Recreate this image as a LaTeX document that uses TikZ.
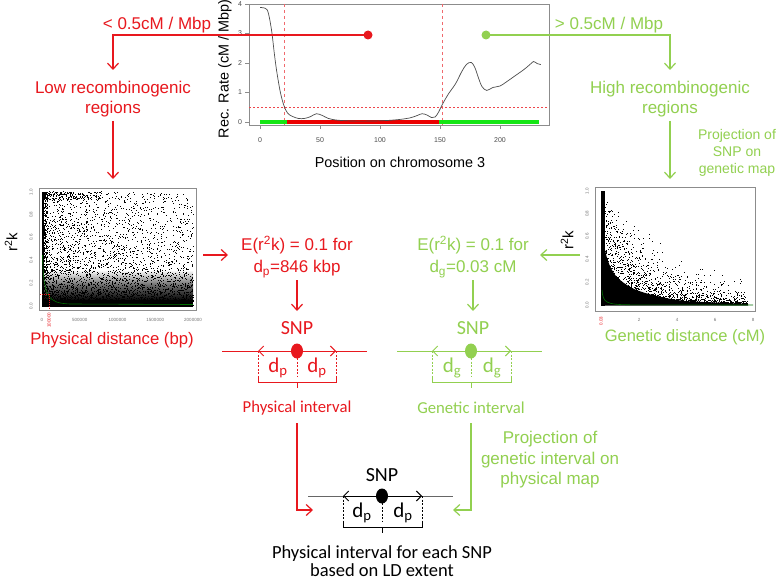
\documentclass[tikz,border=0pt]{standalone}
\usepackage{fontspec}
\setmainfont{Liberation Sans}
\newfontfamily\carl{Carlito}
\usetikzlibrary{arrows.meta}
\definecolor{myred}{RGB}{232,24,30}
\definecolor{mygreen}{RGB}{146,208,80}
\definecolor{barred}{RGB}{235,0,0}
\definecolor{bargreen}{RGB}{20,230,20}
\definecolor{fitgreen}{RGB}{0,110,0}
\definecolor{axgray}{RGB}{140,140,140}
\begin{document}
\begin{tikzpicture}[x=1pt,y=-1pt,
  arr/.style={-{Straight Barb[length=6pt,width=11pt]}, line width=1.2pt},
  darr/.style={{Straight Barb[length=5pt,width=10pt]}-{Straight Barb[length=5pt,width=10pt]}, line width=1pt},
  txt/.style={inner sep=0pt, align=center, font=\fontsize{17}{19.5}\selectfont},
  small/.style={inner sep=0pt, align=center, font=\fontsize{14.4}{17}\selectfont},
  tick/.style={inner sep=0pt, font=\fontsize{7}{8}\selectfont, text=black!70},
  tiny/.style={inner sep=0pt, font=\fontsize{4.5}{5}\selectfont, text=black!55},
  dlab/.style={inner sep=0pt, font=\carl\fontsize{21}{23}\selectfont},
  snplab/.style={inner sep=0pt, font=\carl\fontsize{20}{22}\selectfont},
  intlab/.style={inner sep=0pt, font=\carl\fontsize{16.7}{19}\selectfont},
  fine/.style={dash pattern=on 2pt off 1.5pt, line width=0.6pt},
  dot/.style={circle, fill, inner sep=0pt, minimum size=9pt}]
\useasboundingbox (0,0) rectangle (778,580);
\fill[white] (0,0) rectangle (778,580);

% ---------------- top plot ----------------
\draw[axgray, line width=0.6pt] (249,4) rectangle (549,125);
\foreach \k in {0,...,4}{
  \draw[axgray, line width=0.5pt] (249,122-29.5*\k) -- (245,122-29.5*\k);
  \node[tick] at (240,122-29.5*\k) {\k};
}
\foreach \m in {0,50,100,150,200}{
  \draw[axgray, line width=0.5pt] (260+1.2*\m,125) -- (260+1.2*\m,129);
  \node[tick] at (260+1.2*\m,140) {\m};
}
\draw[myred!65, dashed, line width=0.6pt] (284,4) -- (284,125);
\draw[myred!65, dashed, line width=0.6pt] (442,4) -- (442,125);
\draw[myred!80, dash pattern=on 2pt off 2pt, line width=0.5pt] (249,107) -- (549,107);
\draw[bargreen, line width=4pt] (260,122) -- (287,122);
\draw[barred, line width=4pt] (287,122) -- (439,122);
\draw[bargreen, line width=4pt] (439,122) -- (539,122);
\begin{scope}[shift={(260pt,-122pt)}, x=1.2pt, y=29.5pt]
\draw[black!70, line width=0.7pt] plot[smooth, tension=0.55] coordinates {
 (0,3.88) (3,3.87) (6,3.8) (8,3.5) (10,3.0) (12,2.3) (14,1.7) (17,1.0) (20,0.55)
 (23,0.3) (27,0.19) (32,0.12) (37,0.12) (42,0.18) (47,0.28) (52,0.22) (57,0.12)
 (65,0.06) (80,0.03) (100,0.04) (115,0.08) (125,0.14) (131,0.22) (135,0.28)
 (139,0.24) (143,0.15) (146,0.17) (149,0.35) (152,0.6) (157,0.95) (163,1.3)
 (168,1.7) (172,1.95) (176,2.02) (179,1.85) (182,1.5) (185,1.2) (189,1.07)
 (194,1.17) (200,1.22) (205,1.35) (212,1.55) (220,1.78) (225,1.95) (228,2.05)
 (231,1.98) (234,1.95)};
\end{scope}
\node[small, rotate=90] (ylab) at (225,69) {Rec. Rate (cM / Mbp)};
\node[small] (xlab) at (400,162) {Position on chromosome 3};

% ---------------- top branches ----------------
\node[dot, myred] (rdot) at (368,35) {};
\node[dot, mygreen] (gdot) at (486,35) {};
\coordinate (rtip) at (113,70);
\coordinate (gtip) at (670,70);
\draw[arr, myred] (rdot.center) -| (rtip);
\draw[arr, mygreen] (gdot.center) -| (gtip);
\node[txt, text=myred] (lt) at (157,25) {< 0.5cM / Mbp};
\node[txt, text=mygreen] (gt) at (609,25) {> 0.5cM / Mbp};
\node[txt, text=myred] (lowreg) at (113,99) {Low recombinogenic\\regions};
\node[txt, text=mygreen] (highreg) at (670,99) {High recombinogenic\\regions};
\node[inner sep=0pt, align=center, font=\fontsize{14}{17}\selectfont, text=mygreen] (projsnp) at (737,153) {Projection of\\SNP on\\genetic map};
\coordinate (lowA) at (113,121); \coordinate (lowB) at (113,179);
\coordinate (highA) at (670,121); \coordinate (highB) at (670,179);
\draw[arr, myred] (lowA) -- (lowB);
\draw[arr, mygreen] (highA) -- (highB);

% ---------------- left scatter ----------------
\pgfmathsetseed{4242}
\shade[bottom color=black, top color=white, middle color=black!60] (42,301) rectangle (193,270);
\foreach \i in {1,...,4800}{%
  \pgfmathsetmacro\u{rnd}%
  \pgfmathsetmacro\w{rnd}%
  \pgfmathsetmacro\v{pow(0.001+0.998*\w,2.3+2.6*\u)}%
  \fill (42+151*\u,306-114*\v) rectangle ++(0.6,-0.6);
}
\foreach \i in {1,...,200}{%
  \pgfmathsetmacro\u{0.4*pow(rnd,1.6)}%
  \pgfmathsetmacro\v{0.93+0.07*rnd}%
  \fill (42+151*\u,306-114*\v) rectangle ++(0.6,-0.6);
}
\foreach \i in {1,...,350}{%
  \pgfmathsetmacro\u{0.035*rnd}%
  \pgfmathsetmacro\v{rnd}%
  \fill (42+151*\u,306-114*\v) rectangle ++(0.6,-0.6);
}
\fill[black] (42,306.5) rectangle (193,300);
\fill[black] (42,306) rectangle (43.8,192);
\draw[fitgreen, line width=0.6pt] (42.5,255) .. controls (43.5,298) and (48,303) .. (70,304) -- (193,304.5);
\draw[myred, dash pattern=on 1pt off 1pt, line width=0.5pt] (40,294.5) -- (49,294.5) -- (49,309);
\draw[axgray, line width=0.6pt] (39,188) rectangle (196,310);
\foreach \k/\t in {0/0.0,1/0.2,2/0.4,3/0.6,4/0.8,5/1.0}{
  \node[tiny, rotate=90] at (31,306-22.8*\k) {\t};
}
\foreach \k/\t in {0/0,1/500000,2/1000000,3/1500000,4/2000000}{
  \node[tiny] at (42+37.75*\k,319.5) {\t};
}
\node[tiny, rotate=90, text=myred] at (49,320) {100000};
\node[inner sep=0pt, font=\fontsize{15}{17}\selectfont, rotate=90] (r2kL) at (11,242) {r\textsuperscript{2}k};
\node[inner sep=0pt, font=\fontsize{16.7}{19}\selectfont, text=myred] (physd) at (112,340) {Physical distance (bp)};

% ---------------- right scatter ----------------
\pgfmathsetseed{777}
\foreach \i in {1,...,3600}{%
  \pgfmathsetmacro\xx{7.7*pow(rnd,1.7)}%
  \pgfmathsetmacro\w{rnd}%
  \pgfmathsetmacro\v{pow(0.001+0.998*\w,3.2)*exp(-0.42*\xx*(0.4+1.2*rnd))}%
  \fill (601+19*\xx,305-114*\v) rectangle ++(0.6,-0.6);
}
\fill[black] (601,191) rectangle (605,305.5);
\fill[black] plot[smooth, tension=0.6] coordinates {(604,245) (607,258) (612,270) (620,280) (639,291) (677,300) (715,302.5) (748,303.8)} -- (748,305.5) -- (601,305.5) -- cycle;
\draw[fitgreen, line width=0.6pt] (602,290) .. controls (603,303) and (606,304.5) .. (630,304.8) -- (753,305);
\draw[axgray, line width=0.6pt] (595,187) rectangle (755,311);
\foreach \k/\t in {0/0.0,1/0.2,2/0.4,3/0.6,4/0.8,5/1.0}{
  \node[tiny, rotate=90] at (587,305-22.8*\k) {\t};
}
\foreach \k in {2,4,6,8}{
  \node[tiny] at (601+19*\k,320) {\k};
}
\node[tiny, rotate=90, text=myred] at (601,321) {0.03};
\node[inner sep=0pt, font=\fontsize{15}{17}\selectfont, rotate=90] (r2kR) at (567,240) {r\textsuperscript{2}k};
\node[inner sep=0pt, font=\fontsize{16.5}{19}\selectfont, text=mygreen] (gend) at (685,337) {Genetic distance (cM)};

% ---------------- middle ----------------
\coordinate (rinA) at (203,255); \coordinate (rinB) at (228,255);
\coordinate (ginA) at (580,255); \coordinate (ginB) at (540,255);
\draw[arr, myred] (rinA) -- (rinB);
\draw[arr, mygreen] (ginA) -- (ginB);
\node[txt, text=myred, font=\fontsize{17}{22}\selectfont] (eR) at (297,257) {E(r\textsuperscript{2}k) = 0.1 for\\d\textsubscript{p}=846 kbp};
\node[txt, text=mygreen, font=\fontsize{17}{22}\selectfont] (eG) at (473,257) {E(r\textsuperscript{2}k) = 0.1 for\\d\textsubscript{g}=0.03 cM};
\coordinate (eRa) at (297,280); \coordinate (eRb) at (297,311);
\coordinate (eGa) at (473,280); \coordinate (eGb) at (473,311);
\draw[arr, myred] (eRa) -- (eRb);
\draw[arr, mygreen] (eGa) -- (eGb);

% red interval
\begin{scope}[shift={(297,351)}, myred]
\draw[line width=1pt] (-75,0) -- (70,0);
\draw[darr] (-39,0) -- (39,0);
\draw[fine] (-39,0) -- (-39,29) (39,0) -- (39,29) (0,7) -- (0,26);
\fill (0,0) ellipse (6 and 7.5);
\node[dlab, text=myred] (dR1) at (-19,17) {d\textsubscript{p}};
\node[dlab, text=myred] (dR2) at (20,17) {d\textsubscript{p}};
\draw[line width=0.7pt] (-39,26) -- (-39,31) -- (39,31) -- (39,26) (0,31) -- (0,37);
\node[snplab, text=myred] (snpR) at (0,-23) {SNP};
\node[intlab, text=myred] (intR) at (0,57) {Physical interval};
\end{scope}

% green interval
\begin{scope}[shift={(471,351)}, mygreen]
\draw[line width=1pt] (-74,0) -- (71,0);
\draw[darr] (-39,0) -- (40,0);
\draw[fine] (-39,0) -- (-39,29) (40,0) -- (40,29) (0,7) -- (0,26);
\fill (0,0) ellipse (6 and 7.5);
\node[dlab, text=mygreen] (dG1) at (-19,17) {d\textsubscript{g}};
\node[dlab, text=mygreen] (dG2) at (21,17) {d\textsubscript{g}};
\draw[line width=0.7pt] (-39,26) -- (-39,31) -- (40,31) -- (40,26) (0,31) -- (0,37);
\node[snplab, text=mygreen] (snpG) at (2,-23) {SNP};
\node[intlab, text=mygreen] (intG) at (0,57) {Genetic interval};
\end{scope}

% bottom connectors
\coordinate (rdA) at (297,423); \coordinate (rdB) at (313,510);
\coordinate (gdA) at (471,423); \coordinate (gdB) at (453,510);
\draw[arr, myred] (rdA) |- (rdB);
\draw[arr, mygreen] (gdA) |- (gdB);
\node[txt, text=mygreen, font=\fontsize{17}{20.5}\selectfont] (projint) at (550,460) {Projection of\\genetic interval on\\physical map};

% black interval
\begin{scope}[shift={(382,496)}, black]
\draw[black!60, line width=1pt] (-74,0) -- (71,0);
\draw[darr] (-39,0) -- (40,0);
\draw[fine] (-39,0) -- (-39,29) (40,0) -- (40,29) (0,7) -- (0,26);
\fill (0,0) ellipse (6 and 7.5);
\node[dlab] (dB1) at (-20,17) {d\textsubscript{p}};
\node[dlab] (dB2) at (21,17) {d\textsubscript{p}};
\draw[line width=0.7pt] (-39,26) -- (-39,31) -- (40,31) -- (40,26) (0,31) -- (0,37);
\node[snplab] (snpB) at (0,-21) {SNP};
\end{scope}
\node[inner sep=0pt, align=center, font=\carl\fontsize{18.5}{18.5}\selectfont] (final) at (382,561) {Physical interval for each SNP\\based on LD extent};
\end{tikzpicture}
\end{document}
